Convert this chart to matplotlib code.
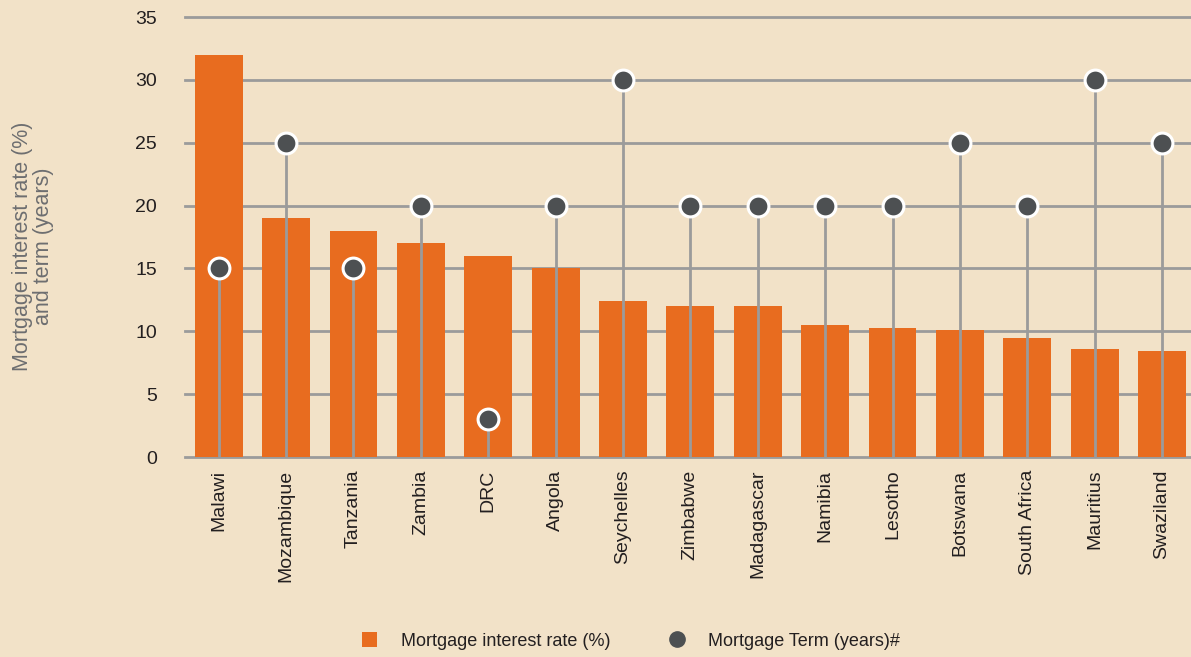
import matplotlib

matplotlib.use("Agg")
import matplotlib.pyplot as plt
import numpy as np
from matplotlib.lines import Line2D
from matplotlib.patches import Patch

countries = ["Malawi", "Mozambique", "Tanzania", "Zambia", "DRC", "Angola",
             "Seychelles", "Zimbabwe", "Madagascar", "Namibia", "Lesotho",
             "Botswana", "South Africa", "Mauritius", "Swaziland"]
interest_rate = [32, 19, 18, 17, 16, 15, 12.4, 12, 12, 10.5, 10.3, 10.1, 9.5, 8.6, 8.4]
term_years = [15, 25, 15, 20, 3, 20, 30, 20, 20, 20, 20, 25, 20, 30, 25]
y_ticks = [0, 5, 10, 15, 20, 25, 30, 35]

BG = "#f2e2c8"
ORANGE = "#e86c1f"
GRID = "#9b9b9b"
DOT = "#4d5052"
TEXT = "#231f20"

plt.rcParams["font.family"] = ["Liberation Sans", "DejaVu Sans"]

fig = plt.figure(figsize=(11.91, 6.57), dpi=100, facecolor=BG)
ax = fig.add_axes([185 / 1191, 1 - 457 / 657, 1 - 185 / 1191, (457 - 17) / 657])
ax.set_facecolor(BG)

x = np.arange(len(countries))
ax.set_xlim(-0.5, 14.43)
ax.set_ylim(0, 35)

# horizontal rules, unclipped so the top one shows fully
for t in y_ticks:
    ax.axhline(t, color=GRID, lw=2.0, zorder=0, clip_on=False)

ax.bar(x, interest_rate, width=0.71, color=ORANGE, zorder=2)
ax.vlines(x, 0, term_years, color=GRID, lw=2.0, zorder=3)
ax.plot(x, term_years, "o", ls="none", color=DOT, ms=15,
        markeredgecolor="white", markeredgewidth=2.2, zorder=4, clip_on=False)

ax.set_yticks(y_ticks)
ax.set_yticklabels([str(t) for t in y_ticks], fontsize=14, color=TEXT)
ax.set_xticks(x)
ax.set_xticklabels(countries, rotation=90, fontsize=14, color=TEXT, va="top")
ax.tick_params(axis="y", length=0, pad=20)
ax.tick_params(axis="x", length=0, pad=9)
for s in ax.spines.values():
    s.set_visible(False)

fig.text(33 / 1191, 1 - 246 / 657, "Mortgage interest rate (%)\nand term (years)",
         rotation=90, ha="center", va="center", fontsize=15.5, color="#6d6e70",
         linespacing=0.95)

handles = [
    Patch(facecolor=ORANGE, edgecolor="none", label="Mortgage interest rate (%)"),
    Line2D([], [], marker="o", ls="none", color=DOT, ms=11,
           label="Mortgage Term (years)#"),
]
fig.legend(handles=handles, loc="center", bbox_to_anchor=(631 / 1191, 1 - 641 / 657),
           ncol=2, frameon=False, fontsize=13, columnspacing=3.3, handlelength=0.85,
           handletextpad=1.3, handleheight=0.85, labelcolor=TEXT)

fig.savefig("out.png", dpi=100, facecolor=BG)
